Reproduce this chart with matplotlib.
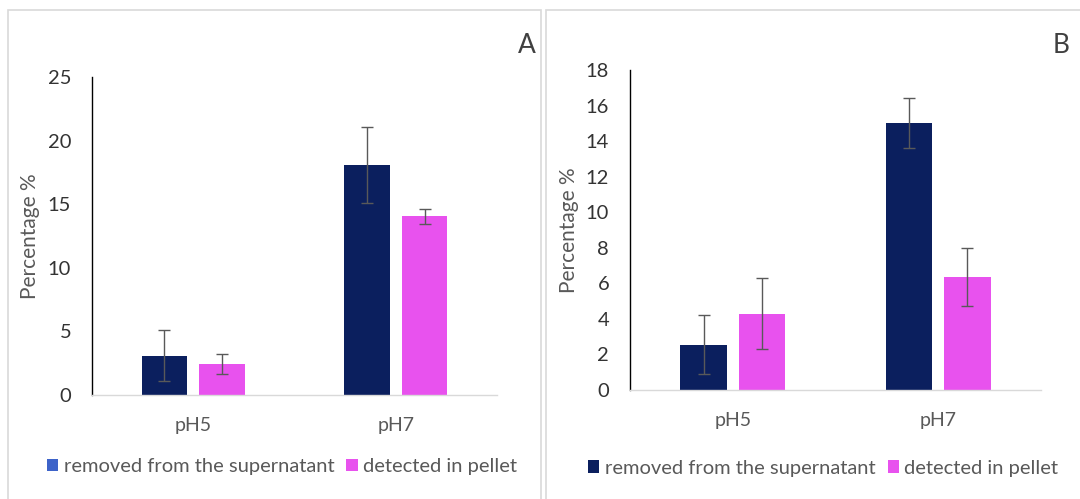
import matplotlib
matplotlib.use("Agg")
import matplotlib.pyplot as plt
from matplotlib.patches import Patch, Rectangle
import numpy as np

categories = ["pH5", "pH7"]
series_names = ["removed from the supernatant", "detected in pellet"]

a_removed = [3.1, 18.1]
a_removed_err = [2.0, 3.0]
a_pellet = [2.45, 14.05]
a_pellet_err = [0.8, 0.6]

b_removed = [2.55, 15.0]
b_removed_err = [1.65, 1.4]
b_pellet = [4.3, 6.35]
b_pellet_err = [2.0, 1.65]

a_yticks = [0, 5, 10, 15, 20, 25]
b_yticks = [0, 2, 4, 6, 8, 10, 12, 14, 16, 18]

NAVY = "#0b1f5e"
PINK = "#e852ee"
LEGEND_BLUE_A = "#3d63c9"
GRAY = "#595959"

plt.rcParams['font.family'] = ['Lato', 'DejaVu Sans']

fig = plt.figure(figsize=(10.8, 4.99), dpi=100)

W, H = 1080, 499
def frect(x0, y0, x1, y1):
    fig.patches.append(Rectangle((x0 / W, 1 - y1 / H), (x1 - x0) / W, (y1 - y0) / H,
                                 transform=fig.transFigure, fill=False,
                                 edgecolor="#d9d9d9", linewidth=1.2))
frect(8, 10, 541, 520)
frect(546, 10, 1100, 520)

axA = fig.add_axes([92 / W, 1 - 395 / H, (497 - 92) / W, (395 - 77) / H])
axB = fig.add_axes([630 / W, 1 - 390 / H, (1041 - 630) / W, (390 - 70) / H])

x = np.arange(len(categories))
bw = 0.225
off = 0.142
ekw = dict(ecolor=GRAY, elinewidth=1.0, capsize=4.3, capthick=1.0)

def draw(ax, rem, rem_err, pel, pel_err, yticks, label, legend_colors,
         lx, ly, ylx, labx, laby):
    ax.bar(x - off, rem, bw, yerr=rem_err, color=NAVY, error_kw=ekw, zorder=2)
    ax.bar(x + off, pel, bw, yerr=pel_err, color=PINK, error_kw=ekw, zorder=2)
    ax.set_xlim(-0.5, 1.5)
    ax.set_ylim(0, yticks[-1])
    ax.set_yticks(yticks)
    ax.set_xticks(x)
    ax.set_xticklabels(categories, color=GRAY, fontsize=14)
    ax.tick_params(axis='y', labelsize=14.5, length=0, pad=15, labelcolor="#333333")
    ax.tick_params(axis='x', length=0, pad=16)
    for s in ["top", "right"]:
        ax.spines[s].set_visible(False)
    ax.spines["left"].set_color("black")
    ax.spines["left"].set_linewidth(1.0)
    ax.spines["bottom"].set_color("#d9d9d9")
    ax.spines["bottom"].set_linewidth(1.0)
    ax.set_ylabel("Percentage %", color=GRAY, fontsize=15)
    ax.yaxis.set_label_coords(ylx, 0.5)
    handles = [Patch(facecolor=legend_colors[0]), Patch(facecolor=legend_colors[1])]
    ax.legend(handles, series_names, loc="center left", frameon=False,
              bbox_to_anchor=(lx, ly), ncol=2, fontsize=14.5,
              labelcolor=GRAY, handlelength=0.55, handleheight=0.55,
              handletextpad=0.28, columnspacing=0.6, borderaxespad=0,
              borderpad=0)
    ax.text(labx, laby, label, transform=ax.transAxes, fontsize=19,
            color="#404040", ha="center", va="center")

draw(axA, a_removed, a_removed_err, a_pellet, a_pellet_err, a_yticks, "A",
     [LEGEND_BLUE_A, PINK], -0.111, -0.226, -0.128, 1.074, 1.10)
draw(axB, b_removed, b_removed_err, b_pellet, b_pellet_err, b_yticks, "B",
     [NAVY, PINK], -0.102, -0.244, -0.123, 1.049, 1.078)

fig.savefig("out.png", dpi=100)
